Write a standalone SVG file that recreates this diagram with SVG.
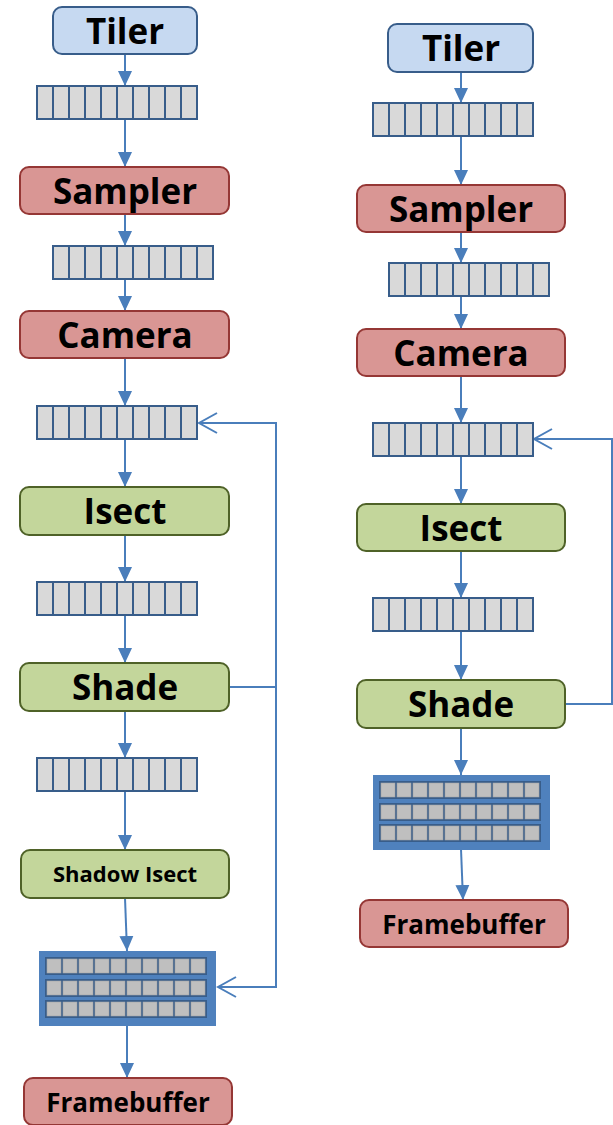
<svg xmlns="http://www.w3.org/2000/svg" width="613" height="1125" viewBox="0 0 613 1125">
  <defs>
    <style>
      .lbl { font-family: "Open Sans", "Liberation Sans", sans-serif; font-weight: bold; fill: #000; text-anchor: middle; }
      .big { font-size: 35px; }
      .mid { font-size: 26px; }
      .sm { font-size: 22px; }
      .blue { fill: #c6d9f1; stroke: #385d8a; stroke-width: 2; }
      .red { fill: #d99694; stroke: #953735; stroke-width: 2; }
      .green { fill: #c3d69b; stroke: #4f6228; stroke-width: 2; }
      .qcell { fill: #d9d9d9; stroke: #385d8a; stroke-width: 2; }
      .conn { fill: none; stroke: #4a7ebb; stroke-width: 2; }
      .gridbg { fill: #4f81bd; }
      .gridrow { fill: #385d8a; }
      .gcell { fill: #bfbfbf; stroke: #a6a6a6; stroke-width: 0.6; }
    </style>
    <marker id="tri" markerUnits="userSpaceOnUse" markerWidth="16" markerHeight="16" viewBox="0 0 16 16" refX="15" refY="8" orient="auto">
      <path d="M0,1 L15,8 L0,15 Z" fill="#4a7ebb"/>
    </marker>
    <marker id="open" markerUnits="userSpaceOnUse" markerWidth="22" markerHeight="24" viewBox="0 0 22 24" refX="20" refY="12" orient="auto">
      <path d="M2,2 L20,12 L2,22" fill="none" stroke="#4a7ebb" stroke-width="2"/>
    </marker>
    <!-- ten-slot queue -->
    <g id="queue">
      <rect x="0" y="0" width="160" height="33" class="qcell"/>
      <path d="M16,0V33M32,0V33M48,0V33M64,0V33M80,0V33M96,0V33M112,0V33M128,0V33M144,0V33" stroke="#385d8a" stroke-width="2"/>
    </g>
    <!-- one row of the framebuffer grid -->
    <g id="grow">
      <rect x="0" y="0" width="162" height="18" class="gridrow"/>
      <rect x="2" y="2" width="14" height="14" class="gcell"/>
      <rect x="18" y="2" width="14" height="14" class="gcell"/>
      <rect x="34" y="2" width="14" height="14" class="gcell"/>
      <rect x="50" y="2" width="14" height="14" class="gcell"/>
      <rect x="66" y="2" width="14" height="14" class="gcell"/>
      <rect x="82" y="2" width="14" height="14" class="gcell"/>
      <rect x="98" y="2" width="14" height="14" class="gcell"/>
      <rect x="114" y="2" width="14" height="14" class="gcell"/>
      <rect x="130" y="2" width="14" height="14" class="gcell"/>
      <rect x="146" y="2" width="14" height="14" class="gcell"/>
    </g>
    <g id="grid">
      <rect x="0" y="0" width="177" height="75" class="gridbg"/>
      <use href="#grow" x="6" y="6"/>
      <use href="#grow" x="6" y="28"/>
      <use href="#grow" x="6" y="49"/>
    </g>
  </defs>

  <!-- connectors -->
  <g id="connectors">
    <!-- left pipeline -->
    <path class="conn" d="M125,54V86" marker-end="url(#tri)"/>
    <path class="conn" d="M125,119V167" marker-end="url(#tri)"/>
    <path class="conn" d="M125,214V246" marker-end="url(#tri)"/>
    <path class="conn" d="M125,279V311" marker-end="url(#tri)"/>
    <path class="conn" d="M125,358V406" marker-end="url(#tri)"/>
    <path class="conn" d="M125,439V487" marker-end="url(#tri)"/>
    <path class="conn" d="M125,535V582" marker-end="url(#tri)"/>
    <path class="conn" d="M125,615V663" marker-end="url(#tri)"/>
    <path class="conn" d="M125,711V758" marker-end="url(#tri)"/>
    <path class="conn" d="M125,791V850" marker-end="url(#tri)"/>
    <path class="conn" d="M125,898L127,951" marker-end="url(#tri)"/>
    <path class="conn" d="M127,1026V1078" marker-end="url(#tri)"/>
    <path class="conn" d="M229,687H276V423H199" marker-end="url(#open)"/>
    <path class="conn" d="M276,687V987H218" marker-end="url(#open)"/>
    <!-- right pipeline -->
    <path class="conn" d="M461,72V103" marker-end="url(#tri)"/>
    <path class="conn" d="M461,136V185" marker-end="url(#tri)"/>
    <path class="conn" d="M461,232V263" marker-end="url(#tri)"/>
    <path class="conn" d="M461,296V329" marker-end="url(#tri)"/>
    <path class="conn" d="M461,376V423" marker-end="url(#tri)"/>
    <path class="conn" d="M461,456V504" marker-end="url(#tri)"/>
    <path class="conn" d="M461,551V598" marker-end="url(#tri)"/>
    <path class="conn" d="M461,631V680" marker-end="url(#tri)"/>
    <path class="conn" d="M461,728V775" marker-end="url(#tri)"/>
    <path class="conn" d="M461,849L463,900" marker-end="url(#tri)"/>
    <path class="conn" d="M565,704H612V439H534" marker-end="url(#open)"/>
  </g>

  <!-- left pipeline nodes -->
  <g id="l-tiler"><rect x="53" y="7" width="144" height="47" rx="9" class="blue"/><text x="125" y="44" class="lbl big">Tiler</text></g>
  <g id="l-q1"><use href="#queue" x="37" y="86"/></g>
  <g id="l-sampler"><rect x="20" y="167" width="209" height="47" rx="9" class="red"/><text x="125" y="204" class="lbl big">Sampler</text></g>
  <g id="l-q2"><use href="#queue" x="53" y="246"/></g>
  <g id="l-camera"><rect x="20" y="311" width="209" height="47" rx="9" class="red"/><text x="125" y="348" class="lbl big">Camera</text></g>
  <g id="l-q3"><use href="#queue" x="37" y="406"/></g>
  <g id="l-isect"><rect x="20" y="487" width="209" height="48" rx="9" class="green"/><text x="125" y="524" class="lbl big">Isect</text></g>
  <g id="l-q4"><use href="#queue" x="37" y="582"/></g>
  <g id="l-shade"><rect x="20" y="663" width="209" height="48" rx="9" class="green"/><text x="125" y="700" class="lbl big">Shade</text></g>
  <g id="l-q5"><use href="#queue" x="37" y="758"/></g>
  <g id="l-shadow"><rect x="21" y="850" width="208" height="48" rx="9" class="green"/><text x="125" y="882" class="lbl sm">Shadow Isect</text></g>
  <g id="l-grid"><use href="#grid" x="39" y="951"/></g>
  <g id="l-fb"><rect x="24" y="1078" width="208" height="47" rx="9" class="red"/><text x="128" y="1112" class="lbl mid">Framebuffer</text></g>

  <!-- right pipeline nodes -->
  <g id="r-tiler"><rect x="388" y="24" width="145" height="48" rx="9" class="blue"/><text x="461" y="61" class="lbl big">Tiler</text></g>
  <g id="r-q1"><use href="#queue" x="373" y="103"/></g>
  <g id="r-sampler"><rect x="357" y="185" width="208" height="47" rx="9" class="red"/><text x="461" y="222" class="lbl big">Sampler</text></g>
  <g id="r-q2"><use href="#queue" x="389" y="263"/></g>
  <g id="r-camera"><rect x="357" y="329" width="208" height="47" rx="9" class="red"/><text x="461" y="366" class="lbl big">Camera</text></g>
  <g id="r-q3"><use href="#queue" x="373" y="423"/></g>
  <g id="r-isect"><rect x="357" y="504" width="208" height="47" rx="9" class="green"/><text x="461" y="541" class="lbl big">Isect</text></g>
  <g id="r-q4"><use href="#queue" x="373" y="598"/></g>
  <g id="r-shade"><rect x="357" y="680" width="208" height="48" rx="9" class="green"/><text x="461" y="717" class="lbl big">Shade</text></g>
  <g id="r-grid"><use href="#grid" x="373" y="775"/></g>
  <g id="r-fb"><rect x="360" y="900" width="208" height="47" rx="9" class="red"/><text x="464" y="934" class="lbl mid">Framebuffer</text></g>
</svg>
